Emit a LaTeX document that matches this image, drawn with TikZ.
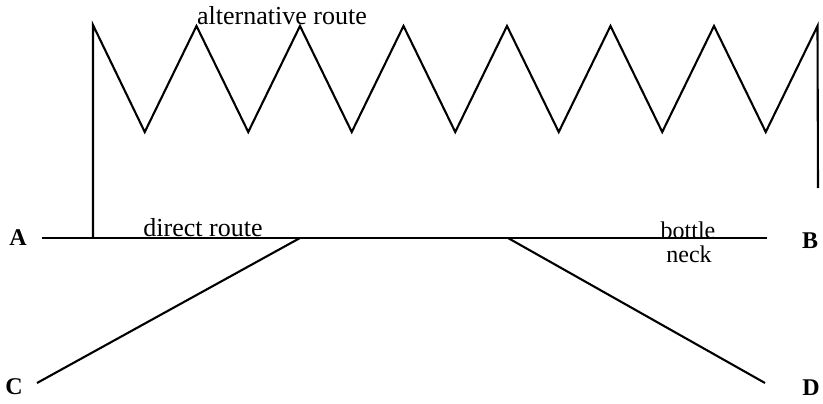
\documentclass[tikz,border=0pt]{standalone}
\usepackage{fontspec}
\setmainfont{Liberation Serif}

\begin{document}
\begin{tikzpicture}[x=1pt, y=-1pt,
  route/.style={line width=2.1pt, line join=miter},
  lbl/.style={anchor=base, inner sep=0pt, font=\fontsize{26}{28}\selectfont},
  pt/.style={anchor=base, inner sep=0pt, font=\fontsize{24}{26}\selectfont\bfseries}
]
\useasboundingbox (0,0) rectangle (823,404);
% end points
\node[pt] (A) at (18,245) {A};
\node[pt] (B) at (810,248) {B};
\node[pt] (C) at (14,394) {C};
\node[pt] (D) at (811,395) {D};
\coordinate (a) at (42,238);
\coordinate (b) at (767,238);
\coordinate (c) at (37,383);
\coordinate (d) at (765,383);
\coordinate (cj) at (300,238);
\coordinate (dj) at (508,238);
% direct route and branches
\draw[route] (a) -- (b);
\draw[route] (cj) -- (c);
\draw[route] (dj) -- (d);
% alternative route
\coordinate (alt0) at (93,238);
\coordinate (alt1) at (818,188);
\draw[route] (alt0) -- (93,25)
  \foreach \i in {0,...,6} { -- ({93+103.5*\i+51.75},132) -- ({93+103.5*(\i+1)},26) }
  -- (alt1);
% labels
\node[lbl] (altlbl) at (282,25) {alternative route};
\node[lbl] (dirlbl) at (203,236) {direct route};
\node[lbl, font=\fontsize{24}{26}\selectfont] (botlbl) at (688,238) {bottle};
\node[lbl, font=\fontsize{24}{26}\selectfont] (necklbl) at (689,262) {neck};
\end{tikzpicture}
\end{document}
